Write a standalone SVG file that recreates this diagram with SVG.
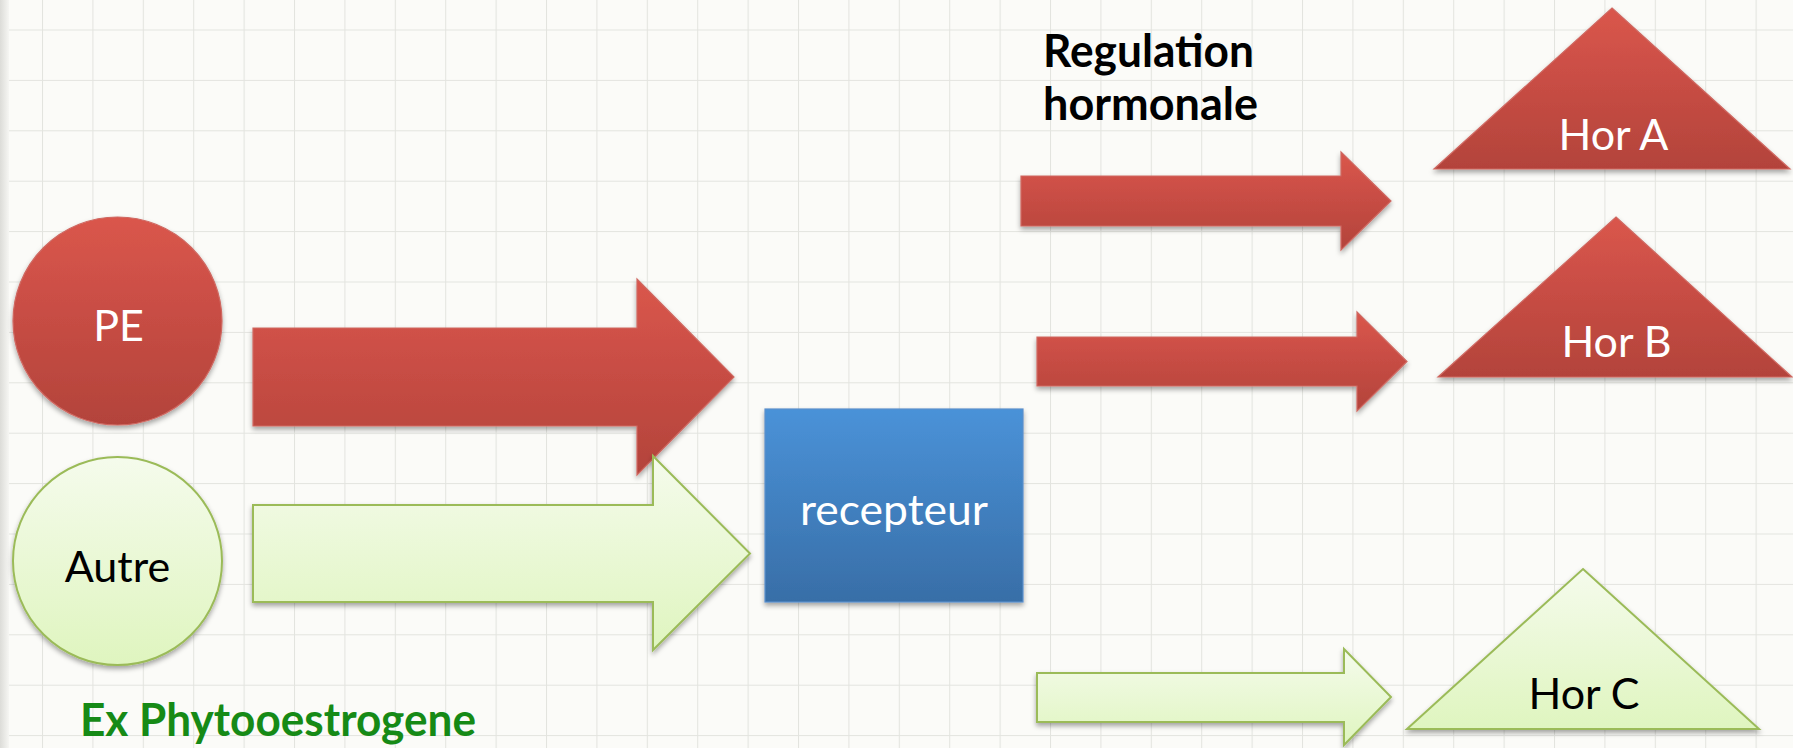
<svg xmlns="http://www.w3.org/2000/svg" width="1793" height="748" viewBox="0 0 1793 748">
  <defs>
    <pattern id="grid" patternUnits="userSpaceOnUse" x="42" y="29.5" width="50.4" height="50.4">
      <rect width="50.4" height="50.4" fill="#fbfbf8"/>
      <path d="M0,0 V50.4 M0,0 H50.4" stroke="#e3e4df" stroke-width="2" fill="none"/>
    </pattern>
    <linearGradient id="gRed" x1="0" y1="0" x2="0" y2="1">
      <stop offset="0" stop-color="#da564c"/>
      <stop offset="1" stop-color="#b3433b"/>
    </linearGradient>
    <linearGradient id="gGreen" x1="0" y1="0" x2="0" y2="1">
      <stop offset="0" stop-color="#f5fbec"/>
      <stop offset="1" stop-color="#dff5bf"/>
    </linearGradient>
    <linearGradient id="gBlue" x1="0" y1="0" x2="0" y2="1">
      <stop offset="0" stop-color="#4a92d8"/>
      <stop offset="1" stop-color="#386ea7"/>
    </linearGradient>
    <linearGradient id="gEdge" x1="0" y1="0" x2="1" y2="0">
      <stop offset="0" stop-color="#dcdcd8"/>
      <stop offset="1" stop-color="#f6f6f3"/>
    </linearGradient>
    <filter id="shadow" x="-10%" y="-10%" width="120%" height="130%">
      <feDropShadow dx="0" dy="3" stdDeviation="2.5" flood-color="#000" flood-opacity="0.35"/>
    </filter>
  </defs>
  <style>
    .red { fill: url(#gRed); stroke: #cf6861; stroke-width: 1.2; filter: url(#shadow); }
    .green { fill: url(#gGreen); stroke: #9bbb59; stroke-width: 2; filter: url(#shadow); }
    .blue { fill: url(#gBlue); stroke: #5b8fcb; stroke-width: 1.2; filter: url(#shadow); }
    .lbl { font-family: Lato, "Liberation Sans", sans-serif; font-size: 43px; text-anchor: middle; }
    .w { fill: #ffffff; }
    .k { fill: #000000; }
    .title { font-family: Lato, "Liberation Sans", sans-serif; font-weight: bold; font-size: 45px; }
  </style>

  <rect width="1793" height="748" fill="url(#grid)"/>
  <rect x="0" y="0" width="9" height="748" fill="url(#gEdge)"/>

  <g id="connectors">
    <path id="arrow-PE" class="red" d="M253,328 H637 V279 L734,377 L637,475 V426 H253 Z"/>
    <path id="arrow-Autre" class="green" d="M253,505 H653 V456 L750,553.5 L653,650 V602 H253 Z"/>
    <path id="arrow-A" class="red" d="M1021,176 H1341 V152 L1391,201 L1341,250 V226 H1021 Z"/>
    <path id="arrow-B" class="red" d="M1037,337 H1357 V312 L1407,361.5 L1357,411 V386 H1037 Z"/>
    <path id="arrow-C" class="green" d="M1037,673 H1344 V649 L1391,697 L1344,745 V722 H1037 Z"/>
  </g>

  <g id="node-PE">
    <ellipse class="red" cx="117.5" cy="321" rx="104.5" ry="104"/>
    <text class="lbl w" x="118.5" y="341">PE</text>
  </g>

  <g id="node-Autre">
    <ellipse class="green" cx="117.5" cy="561" rx="104.5" ry="104"/>
    <text class="lbl k" x="117.5" y="582">Autre</text>
  </g>

  <g id="node-recepteur">
    <rect class="blue" x="765" y="409" width="258" height="193"/>
    <text class="lbl w" x="894" y="525" textLength="188" lengthAdjust="spacingAndGlyphs">recepteur</text>
  </g>

  <g id="node-HorA">
    <polygon class="red" points="1612,8 1790,169 1434,169"/>
    <text class="lbl w" x="1613.5" y="150">Hor A</text>
  </g>

  <g id="node-HorB">
    <polygon class="red" points="1616,217 1792,377 1438,377"/>
    <text class="lbl w" x="1616.5" y="357">Hor B</text>
  </g>

  <g id="node-HorC">
    <polygon class="green" points="1583,569 1759,729 1407,729"/>
    <text class="lbl k" x="1584" y="709">Hor C</text>
  </g>

  <g id="label-regulation">
    <text class="title" x="1043" y="67" fill="#000" textLength="211" lengthAdjust="spacingAndGlyphs">Regulation</text>
    <text class="title" x="1043" y="120" fill="#000" textLength="215" lengthAdjust="spacingAndGlyphs">hormonale</text>
  </g>

  <g id="label-phyto">
    <text class="title" x="80" y="736" fill="#168a16" textLength="396" lengthAdjust="spacingAndGlyphs">Ex Phytooestrogene</text>
  </g>
</svg>
